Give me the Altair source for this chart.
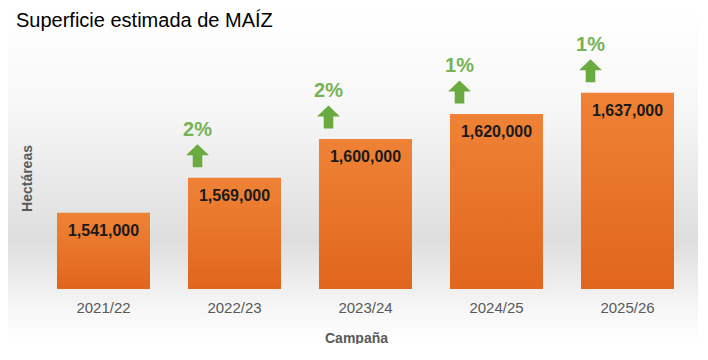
import altair as alt
import pandas as pd

campanas = ["2021/22", "2022/23", "2023/24", "2024/25", "2025/26"]
hectareas = [1541000, 1569000, 1600000, 1620000, 1637000]
etiquetas = ["1,541,000", "1,569,000", "1,600,000", "1,620,000", "1,637,000"]
variacion = ["", "2%", "2%", "1%", "1%"]

df = pd.DataFrame({"campana": campanas, "ha": hectareas, "lbl": etiquetas, "var": variacion})
df_var = df[df["var"] != ""]

W, H = 655, 270
YMIN, YMAX = 1480000, 1696000

x_enc = alt.X("campana:N", sort=campanas, title="Campaña",
              scale=alt.Scale(paddingInner=0.29, paddingOuter=0.145),
              axis=alt.Axis(labelAngle=0, labelFontSize=15, labelColor="#595959",
                            labelFont="Liberation Sans", labelPadding=11, zindex=1,
                            ticks=False, domain=False, grid=False,
                            titleFont="Liberation Sans", titleFontSize=14, titleFontWeight="bold",
                            titleColor="#595959", titleX=318, titleY=42))
y_scale = alt.Scale(domain=[YMIN, YMAX], zero=False, nice=False)
y_enc = alt.Y("ha:Q", scale=y_scale, title="Hectáreas",
              axis=alt.Axis(labels=False, ticks=False, domain=False, grid=False, zindex=1,
                            titleFont="Liberation Sans", titleFontSize=14, titleFontWeight="bold",
                            titleColor="#595959", titleX=-4, titleY=159, titleBaseline="bottom"))

bg = alt.Chart(pd.DataFrame({"a": [0]})).mark_rect(
    color=alt.Gradient(gradient="linear", x1=0, x2=0, y1=0, y2=1,
                       stops=[alt.GradientStop(offset=0, color="#ffffff"),
                              alt.GradientStop(offset=0.3, color="#f7f7f7"),
                              alt.GradientStop(offset=0.69, color="#dedede"),
                              alt.GradientStop(offset=0.9, color="#f7f7f7"),
                              alt.GradientStop(offset=1, color="#ffffff")])
).encode(x=alt.value(-30), x2=alt.value(W + 5), y=alt.value(-11), y2=alt.value(H + 55))

bars = alt.Chart(df).mark_bar(
    color=alt.Gradient(gradient="linear", x1=0, x2=0, y1=0, y2=1,
                       stops=[alt.GradientStop(offset=0, color="#EF8236"),
                              alt.GradientStop(offset=1, color="#E0661C")])
).encode(x=x_enc, y=y_enc, y2=alt.datum(YMIN))

vals = alt.Chart(df).mark_text(font="Liberation Sans", fontSize=16, fontWeight="bold",
                               color="#1a1a1a", baseline="middle", dy=18).encode(
    x=alt.X("campana:N", sort=campanas), y=alt.Y("ha:Q", scale=y_scale), text="lbl:N")

arrow_path = "M0,-1 L1,-0.05 L0.42,-0.05 L0.42,1 L-0.42,1 L-0.42,-0.05 L-1,-0.05 Z"
arrows = alt.Chart(df_var).mark_point(shape=arrow_path, filled=True, size=520, opacity=1,
                                      color="#6AAB3F", xOffset=-37, yOffset=-22).encode(
    x=alt.X("campana:N", sort=campanas), y=alt.Y("ha:Q", scale=y_scale))

pcts = alt.Chart(df_var).mark_text(font="Liberation Sans", fontSize=20, fontWeight="bold",
                                   color="#77B255", baseline="middle", dx=-37, dy=-48).encode(
    x=alt.X("campana:N", sort=campanas), y=alt.Y("ha:Q", scale=y_scale), text="var:N")

title = alt.Chart(pd.DataFrame({"t": ["Superficie estimada de MAÍZ"]})).mark_text(
    font="Liberation Sans", fontSize=20, color="#000000", align="left", baseline="alphabetic"
).encode(x=alt.value(-22), y=alt.value(8), text="t:N")

chart = alt.layer(bg, bars, vals, arrows, pcts, title).properties(
    width=W, height=H,
    autosize=alt.AutoSizeParams(type="none"),
    padding={"left": 30, "top": 11, "right": 5, "bottom": 55},
).configure_view(stroke=None).configure(background="#ffffff")

chart.save("out.html", embed_options={"renderer": "svg", "actions": False})
